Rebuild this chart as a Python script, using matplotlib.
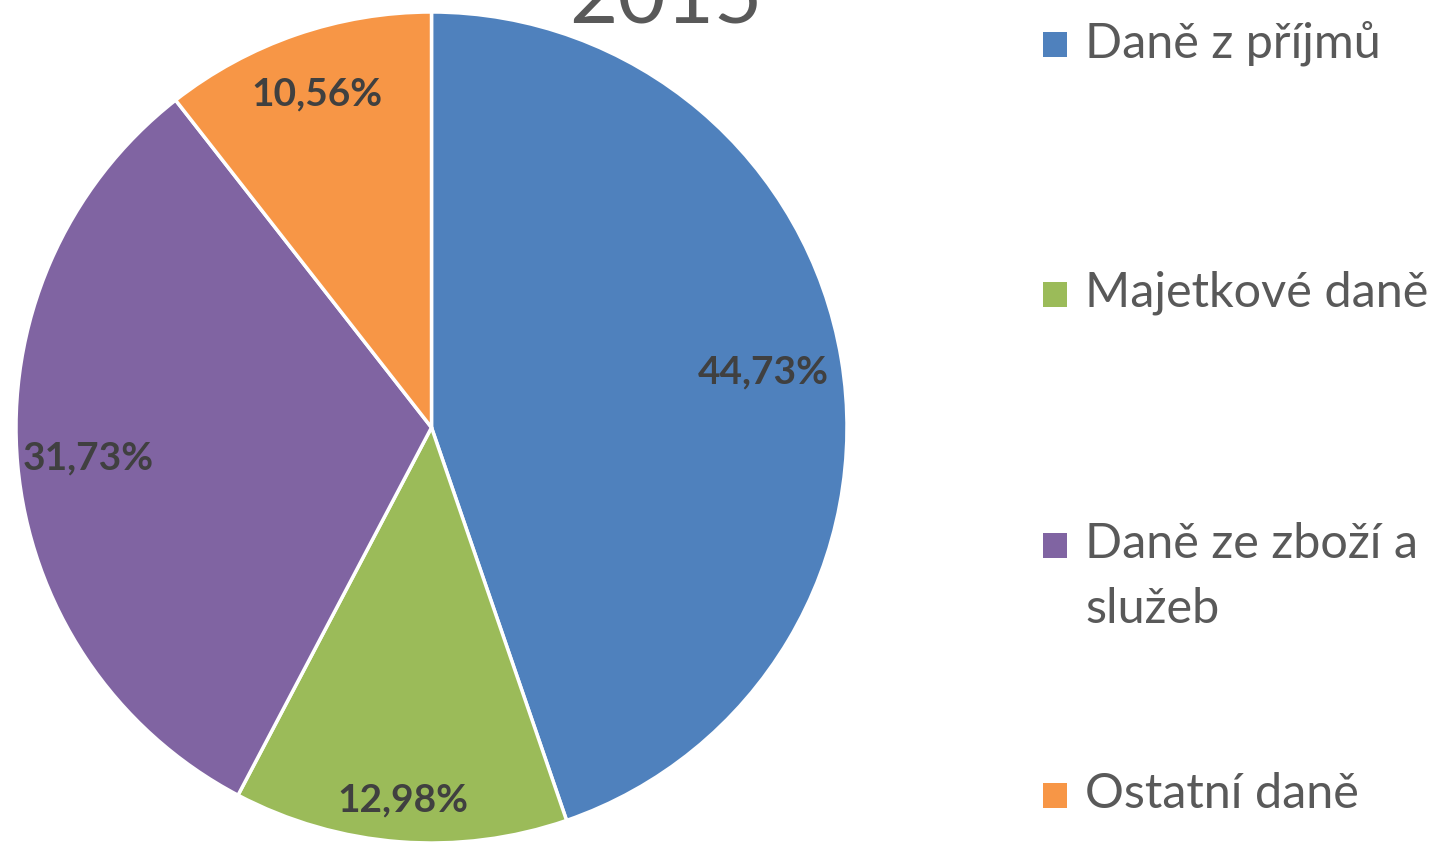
import matplotlib
matplotlib.use("Agg")
import matplotlib.pyplot as plt
from matplotlib.patches import Rectangle
import numpy as np

# ---- data ----
categories = ["Daně z příjmů", "Majetkové daně", "Daně ze zboží a\nslužeb", "Ostatní daně"]
values = [44.73, 12.98, 31.73, 10.56]
title = "2015"

# ---- style ----
colors = ["#4F81BD", "#9BBB59", "#8064A2", "#F79646"]
label_r = [0.81, 0.90, 0.83, 0.85]
FONT = "Lato"
W, H = 1439, 843

fig = plt.figure(figsize=(W / 100, H / 100), dpi=100)
R = 415.5
cx, cy = 431.5, H - 427.5
ax = fig.add_axes([(cx - R) / W, (cy - R) / H, 2 * R / W, 2 * R / H])
wedges, _ = ax.pie(values, colors=colors, startangle=90, counterclock=False,
                   radius=1, wedgeprops=dict(edgecolor="white", linewidth=2.5))
ax.set_xlim(-1, 1)
ax.set_ylim(-1, 1)
ax.set_aspect("equal")
ax.axis("off")

for w, v, r in zip(wedges, values, label_r):
    ang = np.deg2rad((w.theta1 + w.theta2) / 2)
    ax.text(r * np.cos(ang), r * np.sin(ang), f"{v:.2f}%".replace(".", ","),
            ha="center", va="center", fontsize=28, fontweight="bold",
            color="#404040", family=FONT)

fig.text(666 / W, (H - 23) / H, title, ha="center", va="baseline",
         fontsize=60, color="#595959", family=FONT)

# legend
leg_y = [45, 295, 546, 796]
for cat, col, y in zip(categories, colors, leg_y):
    fig.patches.append(Rectangle((1043 / W, (H - y - 12) / H), 24 / W, 25 / H,
                                 transform=fig.transFigure, facecolor=col,
                                 edgecolor="none"))
    lines = cat.split("\n")
    for i, line in enumerate(lines):
        fig.text(1085 / W, (H - y - 65 * i + 2) / H, line, ha="left", va="center",
                 fontsize=35, color="#595959", family=FONT)

fig.savefig("out.png", dpi=100)
